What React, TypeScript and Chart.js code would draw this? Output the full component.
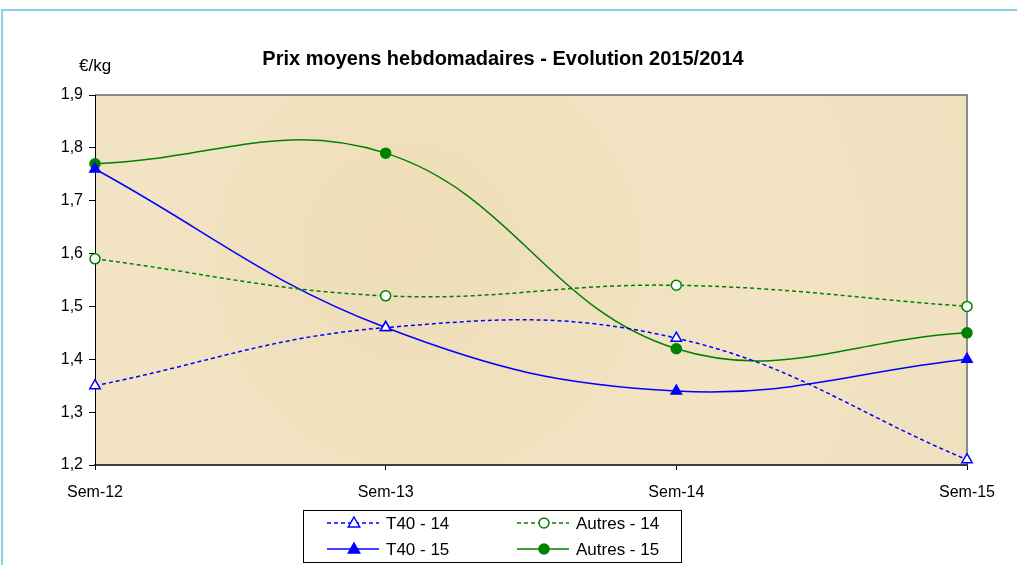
import React, { useEffect, useRef } from "react";
import { Chart, registerables } from "chart.js";

Chart.register(...registerables);

const categories = ["Sem-12", "Sem-13", "Sem-14", "Sem-15"];
const t40_14 = [1.35, 1.46, 1.44, 1.21];
const autres_14 = [1.59, 1.52, 1.54, 1.5];
const t40_15 = [1.76, 1.46, 1.34, 1.4];
const autres_15 = [1.77, 1.79, 1.42, 1.45];
const yTicks = [1.2, 1.3, 1.4, 1.5, 1.6, 1.7, 1.8, 1.9];

const TITLE = "Prix moyens hebdomadaires - Evolution 2015/2014";
const UNIT = "€/kg";
const BLUE = "#0000FF";
const GREEN = "#008000";
const FONT = "'Liberation Sans', Arial, sans-serif";

type LegendItem = { label: string; color: string; dash: number[]; style: string; fill: string };
const legendItems: LegendItem[] = [
  { label: "T40 - 14", color: BLUE, dash: [4, 3], style: "triangle", fill: "#FFFFFF" },
  { label: "Autres - 14", color: GREEN, dash: [4, 3], style: "circle", fill: "#FFFFFF" },
  { label: "T40 - 15", color: BLUE, dash: [], style: "triangle", fill: BLUE },
  { label: "Autres - 15", color: GREEN, dash: [], style: "circle", fill: GREEN },
];

function drawMarker(ctx: CanvasRenderingContext2D, style: string, x: number, y: number, color: string, fill: string) {
  ctx.save();
  ctx.setLineDash([]);
  ctx.strokeStyle = color;
  ctx.fillStyle = fill;
  ctx.lineWidth = 1.5;
  ctx.beginPath();
  if (style === "circle") {
    ctx.arc(x, y, 5, 0, Math.PI * 2);
  } else {
    const r = 6;
    ctx.moveTo(x, y - r);
    ctx.lineTo(x + r * 0.95, y + r * 0.65);
    ctx.lineTo(x - r * 0.95, y + r * 0.65);
    ctx.closePath();
  }
  ctx.fill();
  ctx.stroke();
  ctx.restore();
}

const decorPlugin = {
  id: "decor",
  beforeDraw(chart: any) {
    const { ctx, chartArea: a } = chart;
    ctx.save();
    ctx.fillStyle = "#FFFFFF";
    ctx.fillRect(0, 0, chart.width, chart.height);
    const g = ctx.createRadialGradient(a.left + 300, a.top + 150, 20, a.left + 400, a.top + 200, 600);
    g.addColorStop(0, "#EEDDB8");
    g.addColorStop(0.5, "#F2E4C4");
    g.addColorStop(1, "#EEDFBC");
    ctx.fillStyle = g;
    ctx.fillRect(a.left, a.top, a.right - a.left, a.bottom - a.top);
    ctx.strokeStyle = "#8C8C8C";
    ctx.lineWidth = 2;
    ctx.beginPath();
    ctx.moveTo(a.left, a.top);
    ctx.lineTo(a.right, a.top);
    ctx.lineTo(a.right, a.bottom);
    ctx.stroke();
    ctx.strokeStyle = "#87CEEB";
    ctx.lineWidth = 2;
    ctx.beginPath();
    ctx.moveTo(2, chart.height);
    ctx.lineTo(2, 10);
    ctx.lineTo(chart.width, 10);
    ctx.stroke();
    ctx.restore();
  },
  afterDraw(chart: any) {
    const { ctx } = chart;
    ctx.save();
    ctx.fillStyle = "#000000";
    ctx.font = `bold 20px ${FONT}`;
    ctx.textAlign = "center";
    ctx.textBaseline = "middle";
    ctx.fillText(TITLE, 503, 59);
    ctx.font = `17px ${FONT}`;
    ctx.textAlign = "left";
    ctx.fillText(UNIT, 79, 66);

    const bx = 303, by = 510, bw = 378, bh = 52;
    ctx.fillStyle = "#FFFFFF";
    ctx.fillRect(bx, by, bw, bh);
    ctx.strokeStyle = "#000000";
    ctx.lineWidth = 1;
    ctx.strokeRect(bx + 0.5, by + 0.5, bw, bh);
    const cols = [327, 517];
    const rows = [523, 549];
    legendItems.forEach((it, i) => {
      const x0 = cols[i % 2];
      const y = rows[Math.floor(i / 2)];
      ctx.strokeStyle = it.color;
      ctx.lineWidth = 1.5;
      ctx.setLineDash(it.dash);
      ctx.beginPath();
      ctx.moveTo(x0, y);
      ctx.lineTo(x0 + 52, y);
      ctx.stroke();
      ctx.setLineDash([]);
      drawMarker(ctx, it.style, x0 + 27, y, it.color, it.fill);
      ctx.fillStyle = "#000000";
      ctx.font = `17px ${FONT}`;
      ctx.textAlign = "left";
      ctx.textBaseline = "middle";
      ctx.fillText(it.label, x0 + 59, y + 1);
    });
    ctx.restore();
  },
};

function ds(label: string, data: number[], color: string, dash: number[], style: string, filled: boolean) {
  return {
    label,
    data,
    borderColor: color,
    backgroundColor: filled ? color : "#FFFFFF",
    borderWidth: 1.5,
    borderDash: dash,
    pointStyle: style,
    pointRadius: style === "triangle" ? 6 : 5,
    pointBorderWidth: 1.5,
    pointBorderColor: color,
    pointBackgroundColor: filled ? color : "#FFFFFF",
    tension: 0.4,
    clip: false as any,
    fill: false,
  };
}

export default function App() {
  const ref = useRef<HTMLCanvasElement | null>(null);
  useEffect(() => {
    if (!ref.current) return;
    const chart = new Chart(ref.current, {
      type: "line",
      data: {
        labels: categories,
        datasets: [
          ds("T40 - 14", t40_14, BLUE, [4, 3], "triangle", false),
          ds("Autres - 14", autres_14, GREEN, [4, 3], "circle", false),
          ds("T40 - 15", t40_15, BLUE, [], "triangle", true),
          ds("Autres - 15", autres_15, GREEN, [], "circle", true),
        ],
      },
      options: {
        responsive: false,
        animation: false,
        devicePixelRatio: 1,
        layout: { padding: { left: 0, top: 95, right: 50, bottom: 0 } },
        plugins: { legend: { display: false }, title: { display: false }, tooltip: { enabled: false } },
        scales: {
          x: {
            type: "category",
            offset: false,
            grid: { display: true, drawOnChartArea: false, tickLength: 5, color: "#000000" },
            border: { color: "#404040", width: 2 },
            ticks: { color: "#000000", font: { family: FONT, size: 16 }, padding: 13, maxRotation: 0, autoSkip: false },
            afterFit: (s: any) => { s.height = 100; },
          },
          y: {
            min: 1.2,
            max: 1.9,
            afterBuildTicks: (s: any) => { s.ticks = yTicks.map((v) => ({ value: v })); },
            grid: { display: true, drawOnChartArea: false, tickLength: 6, color: "#000000" },
            border: { color: "#000000", width: 1 },
            ticks: {
              color: "#000000",
              font: { family: FONT, size: 16 },
              padding: 6,
              callback: (v: any) => Number(v).toFixed(1).replace(".", ","),
            },
            afterFit: (s: any) => { s.width = 95; },
          },
        },
      },
      plugins: [decorPlugin],
    } as any);
    return () => chart.destroy();
  }, []);
  return (
    <div style={{ position: "absolute", left: 0, top: 0, width: 1017, height: 565 }}>
      <canvas ref={ref} width={1017} height={565} style={{ width: 1017, height: 565 }} />
    </div>
  );
}
